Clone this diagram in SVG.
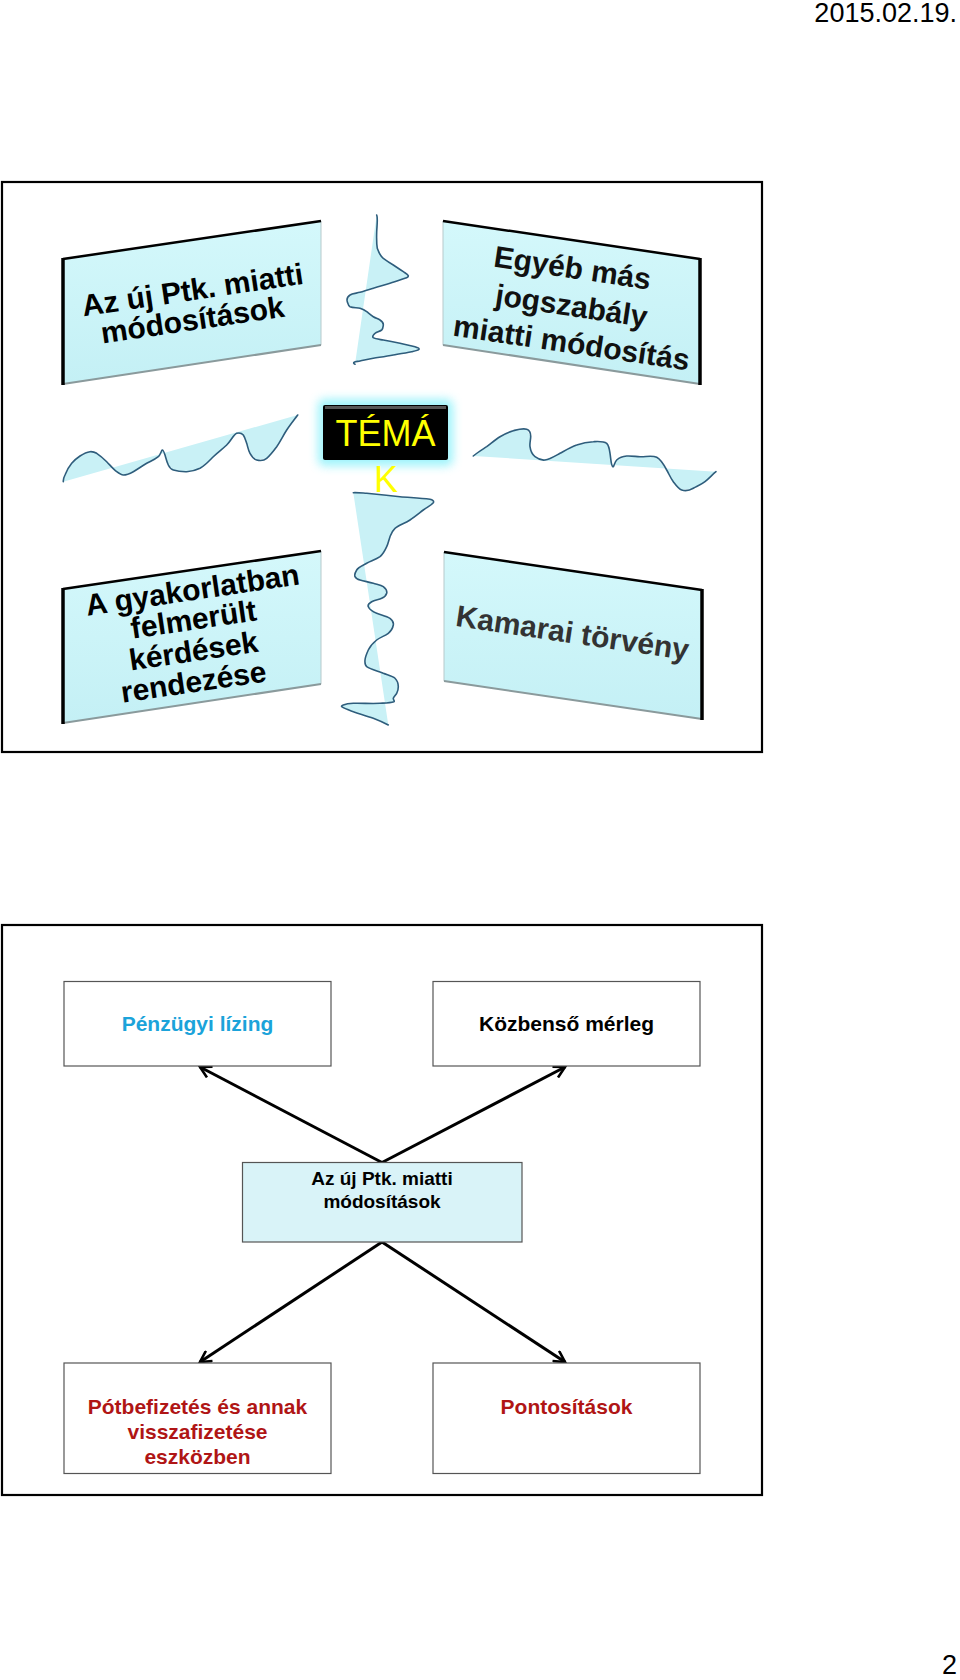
<svg xmlns="http://www.w3.org/2000/svg" width="960" height="1680" viewBox="0 0 960 1680">
<style>
.frame{fill:none;stroke:#000;stroke-width:2.2}
.pfill{fill:url(#pg)}
.dark{fill:none;stroke:#000;stroke-width:2.5;stroke-linejoin:round}
.darkw{fill:none;stroke:#000;stroke-width:3.5}
.shade{fill:none;stroke:#8a9a9c;stroke-width:2}
.light{fill:none;stroke:#b7c9cb;stroke-width:1}
.pt{font-family:"Liberation Sans",Arial,sans-serif;font-weight:bold;font-size:30px;text-anchor:middle}
.wave{fill:#c9f1f6;stroke:none}
.wl{fill:none;stroke:#2e5d7c;stroke-width:1.6;stroke-linejoin:round;stroke-linecap:round}
.box{fill:#fff;stroke:#555;stroke-width:1.2}
.bt{font-family:"Liberation Sans",Arial,sans-serif;font-weight:bold;font-size:21px;text-anchor:middle}
.conn{stroke:#000;stroke-width:3;fill:none;marker-end:url(#ah)}
</style>
<defs>
<linearGradient id="pg" x1="0" y1="0" x2="0" y2="1">
<stop offset="0" stop-color="#d4f8fb"/>
<stop offset="1" stop-color="#c4f0f5"/>
</linearGradient>
<filter id="glow" x="-30%" y="-40%" width="160%" height="180%">
<feGaussianBlur stdDeviation="5"/>
</filter>
<marker id="ah" viewBox="0 0 14 14" refX="12" refY="7" markerWidth="14" markerHeight="14" markerUnits="userSpaceOnUse" orient="auto">
<path d="M1,1 L12,7 L1,13" fill="none" stroke="#000" stroke-width="2.6"/>
</marker>
</defs>

<text x="957" y="22" font-family="Liberation Sans,Arial,sans-serif" font-size="27" text-anchor="end" fill="#000">2015.02.19.</text>

<rect class="frame" x="2" y="182" width="760" height="570"/>

<g id="waves">
<path class="wave" d="M376.7,215 L377.7,220 L376.7,231.7 L377.3,248.3 L383.3,258.3 L393.3,265 L403.3,271.7 L408.3,275.7 L405,278.3 L390,283.3 L373.3,288.3 L360,292.3 L350,295 L347.3,301.7 L350,306.7 L360,308.3 L366.7,311.7 L373.3,316.7 L380,320 L383.3,325 L381.7,330 L375,333.3 L373.3,337.7 L383.3,340 L400,343.3 L415,346.7 L419,349.3 L411.7,351.7 L393.3,355 L373.3,358.3 L360,361 L354,362.3 L355,364.3 Z"/>
<path class="wl" d="M376.7,215 C378,218 377,225 376.7,231.7 C376.5,238 376.5,244 377.3,248.3 C379,253 380,256 383.3,258.3 C387,261 390,263 393.3,265 C397,267.5 400,269.5 403.3,271.7 C406,273.5 408,274.5 408.3,275.7 C408.5,277 407,277.8 405,278.3 C400,280 395,281.8 390,283.3 C384,285 379,286.8 373.3,288.3 C368,290 364,291.3 360,292.3 C356,293.3 352,293.5 350,295 C347,297 346.5,299 347.3,301.7 C348,304 348.5,306 350,306.7 C353,308 357,307.5 360,308.3 C363,309.3 364.5,310 366.7,311.7 C369,313.5 371,315.3 373.3,316.7 C376,318.3 378,318.8 380,320 C382,321.3 383.5,323 383.3,325 C383,327.5 383,329 381.7,330 C379.5,331.5 377,332 375,333.3 C373.5,334.5 372,336.5 373.3,337.7 C375,339 379,339.3 383.3,340 C389,341 394,342 400,343.3 C405,344.5 410,345.5 415,346.7 C417.5,347.5 419.5,348.3 419,349.3 C418,350.5 415,351 411.7,351.7 C405,353 399,354 393.3,355 C386,356.3 380,357.2 373.3,358.3 C368,359.3 364,360.2 360,361 C357.5,361.5 355,361.5 354,362.3 C353.3,363 354,364 355,364.3"/>

<path class="wave" d="M63.3,481.7 L65,475 L71.7,463.3 L80,456 L90,451.7 L96.7,453.3 L106.7,461.7 L116.7,471.7 L123.3,475 L133.3,471.7 L146.7,463.3 L158.3,456.7 L162.3,450 L165,455 L168.3,465 L173.3,470 L186.7,471.7 L200,468.3 L213.3,456.7 L226.7,445 L236.7,433.3 L243.3,435 L246.7,443.3 L250,453.3 L256.7,460 L266.7,458.3 L276.7,446.7 L286.7,430 L297.7,415 Z"/>
<path class="wl" d="M63.3,481.7 C63,479 64,477 65,475 C67,470 69,466.5 71.7,463.3 C74.5,460 77,458 80,456 C83,454 86.5,452 90,451.7 C92.5,451.5 94.5,452 96.7,453.3 C100,455.5 103.5,458.5 106.7,461.7 C110,465 113,469 116.7,471.7 C119,473.5 121,475 123.3,475 C126.5,475 130,473.5 133.3,471.7 C138,469 142,466 146.7,463.3 C151,461 155,459.5 158.3,456.7 C160.5,455 161.3,450.5 162.3,450 C163.3,449.8 164.2,452.5 165,455 C166,458.5 166.8,462 168.3,465 C169.5,467.5 171,469.3 173.3,470 C177.5,471.3 182,471.8 186.7,471.7 C191.5,471.5 196,470.3 200,468.3 C205,465.5 209,461 213.3,456.7 C218,452 222.5,449 226.7,445 C230.5,441.5 233.5,434.5 236.7,433.3 C239.5,432.5 242,433.5 243.3,435 C245,437.5 245.8,440.5 246.7,443.3 C247.8,446.8 248.3,450.5 250,453.3 C251.5,456 253.8,459.3 256.7,460 C260,460.8 263.8,460.8 266.7,458.3 C270.5,455 273.5,451 276.7,446.7 C280.3,441.5 283.2,435.5 286.7,430 C290,425 294,420 297.7,415"/>

<path class="wave" d="M473.3,456 L486.7,446.7 L500,436.7 L513.3,430.7 L526.7,429.3 L530.7,436.7 L530,446.7 L535,456.7 L545,460 L560,453.3 L576.7,445 L593.3,441.7 L606.7,443.3 L610,453.3 L612.7,466.7 L616.7,460 L626.7,456 L640,456.7 L656.7,457.3 L666.7,470 L673.3,481.7 L681.7,490 L693.3,488.3 L705,481.7 L716,471.7 Z"/>
<path class="wl" d="M473.3,456 C477.5,452.5 482,449.8 486.7,446.7 C491,443.5 495.5,439.5 500,436.7 C504.5,434 508.8,432 513.3,430.7 C518,429.5 523,428 526.7,429.3 C529.5,430.3 530.8,433.5 530.7,436.7 C530.6,440 529.5,443.5 530,446.7 C530.5,450.5 532,454.5 535,456.7 C538,459 541.5,460.5 545,460 C550,459.3 555,456 560,453.3 C565.5,450.3 571,447 576.7,445 C582,443 587.5,441.8 593.3,441.7 C598,441.5 603.5,441 606.7,443.3 C609,445.5 609.5,449.5 610,453.3 C610.8,458 611,465.5 612.7,466.7 C614,467.5 614.5,462 616.7,460 C619.5,457.5 623,456.3 626.7,456 C631,455.7 635.5,456.5 640,456.7 C645.5,457 652,455 656.7,457.3 C661,459.5 664,465 666.7,470 C669,474 670.5,478 673.3,481.7 C675.8,485 678.5,489 681.7,490 C685.5,491.2 689.5,490.5 693.3,488.3 C697.5,486 701.5,484.5 705,481.7 C709,478.5 712.5,474.5 716,471.7"/>

<path class="wave" d="M353.3,492.7 L366.7,493.3 L400,496.7 L430,499.3 L433.3,502.7 L423.3,510 L410,520 L395,528.3 L390,536.7 L386.7,546.7 L380,556.7 L366.7,563.3 L356.7,570 L355,576.7 L360,580 L373.3,583.3 L383.3,586.7 L386.7,593.3 L381.7,598.3 L371.7,601.7 L368.3,606.7 L376.7,613.3 L390,618.3 L393.3,625 L388.3,633.3 L376.7,640 L368.3,650 L365,660 L366.7,666.7 L383.3,673.3 L395,678.3 L398.3,686.7 L396.7,693.3 L393.3,698.3 L394,701.7 L380,703.3 L353.3,703.3 L343.3,705 L341.7,706.7 L353.3,711.7 L373.3,718.3 L388.3,725 Z"/>
<path class="wl" d="M353.3,492.7 C357.5,492.5 362,493 366.7,493.3 C377.5,494.3 389,495.5 400,496.7 C410,497.6 420.5,498 430,499.3 C432.5,499.8 434.3,501.2 433.3,502.7 C431,505.5 426.5,507.5 423.3,510 C419,513.3 414.5,517 410,520 C405,523.3 399,525 395,528.3 C392,531 391,534 390,536.7 C388.8,540 388.2,543.5 386.7,546.7 C385,550.5 383.3,554 380,556.7 C376,559.5 371,561 366.7,563.3 C363,565.5 358.5,567 356.7,570 C355.3,572.3 354.3,575 355,576.7 C356,578.8 357.8,579.5 360,580 C364.5,581.3 369,582 373.3,583.3 C377,584.5 381,585 383.3,586.7 C385.5,588.5 387.3,591 386.7,593.3 C386,595.8 384,597.3 381.7,598.3 C378.5,599.7 374.5,600 371.7,601.7 C369.5,603 367.5,605 368.3,606.7 C369.5,609.5 373,611.8 376.7,613.3 C381,615 386.5,616 390,618.3 C392.3,620 393.8,622.5 393.3,625 C392.8,628 391,631 388.3,633.3 C385,636 380,637.3 376.7,640 C373,643 370,646.3 368.3,650 C366.8,653.3 365.3,656.7 365,660 C364.8,662.5 364.8,665.3 366.7,666.7 C371,669.8 378,671 383.3,673.3 C387.5,675 392.5,675.8 395,678.3 C397.3,680.7 398.3,683.8 398.3,686.7 C398.3,689 397.8,691.3 396.7,693.3 C395.8,695 393.8,696.7 393.3,698.3 C393,699.5 395,701 394,701.7 C390,703 385,703 380,703.3 C371,703.8 362,703 353.3,703.3 C349.5,703.5 346,704 343.3,705 C342,705.5 341.3,706 341.7,706.7 C344.5,708.8 349,710.2 353.3,711.7 C360,714 366.5,715.8 373.3,718.3 C378.5,720.3 383.5,722.5 388.3,725"/>
</g>

<g id="panel-ptk">
<polygon class="pfill" points="63,259 321,221 321,345 63,384"/>
<polyline class="light" points="321,221 321,345"/>
<polyline class="shade" points="63,384 321,345"/>
<polyline class="dark" points="321,221 63,259"/>
<polyline class="darkw" points="63,258 63,385"/>
<text class="pt" transform="translate(194,300) rotate(-8.4)">Az új Ptk. miatti</text>
<text class="pt" transform="translate(194,330) rotate(-8.4)">módosítások</text>
</g>

<g id="panel-egyeb">
<polygon class="pfill" points="443,221 700,259 700,384 443,345"/>
<polyline class="light" points="443,221 443,345"/>
<polyline class="shade" points="443,345 700,384"/>
<polyline class="dark" points="443,221 700,259"/>
<polyline class="darkw" points="700,258 700,385"/>
<text class="pt" fill="#111" transform="translate(571,278) rotate(8.4)">Egyéb más</text>
<text class="pt" fill="#111" transform="translate(570,316) rotate(8.4)">jogszabály</text>
<text class="pt" fill="#111" transform="translate(570,353) rotate(8.4)">miatti módosítás</text>
</g>

<g id="panel-gyakorlat">
<polygon class="pfill" points="63,589 321,551 321,684 63,723"/>
<polyline class="light" points="321,551 321,684"/>
<polyline class="shade" points="63,723 321,684"/>
<polyline class="dark" points="321,551 63,589"/>
<polyline class="darkw" points="63,588 63,724"/>
<text class="pt" transform="translate(194,600) rotate(-8.4)">A gyakorlatban</text>
<text class="pt" transform="translate(195,629.5) rotate(-8.4)">felmerült</text>
<text class="pt" transform="translate(195,661) rotate(-8.4)">kérdések</text>
<text class="pt" transform="translate(195,692) rotate(-8.4)">rendezése</text>
</g>

<g id="panel-kamarai">
<polygon class="pfill" points="444,552 702,590 702,719 444,681"/>
<polyline class="light" points="444,552 444,681"/>
<polyline class="shade" points="444,681 702,719"/>
<polyline class="dark" points="444,552 702,590"/>
<polyline class="darkw" points="702,589 702,720"/>
<text class="pt" fill="#333" transform="translate(571,643) rotate(8.4)">Kamarai törvény</text>
</g>

<g id="temak">
<rect x="318" y="399" width="135" height="67" rx="6" fill="#7ff0fa" opacity="0.75" filter="url(#glow)"/>
<rect x="323" y="405" width="125" height="55" rx="2" fill="#000"/>
<rect x="325" y="406" width="121" height="3" fill="#555"/>
<text x="385.5" y="446" font-family="Liberation Sans,Arial,sans-serif" font-size="36" text-anchor="middle" fill="#ffff00">TÉMÁ</text>
<text x="386" y="492" font-family="Liberation Sans,Arial,sans-serif" font-size="36" text-anchor="middle" fill="#ffff00">K</text>
</g>

<rect class="frame" x="2" y="925" width="760" height="570"/>

<g id="connectors">
<line class="conn" x1="382" y1="1162.5" x2="200" y2="1067"/>
<line class="conn" x1="382" y1="1162.5" x2="565" y2="1067"/>
<line class="conn" x1="382" y1="1242" x2="200" y2="1362"/>
<line class="conn" x1="382" y1="1242" x2="565" y2="1362"/>
</g>

<g id="n-lizing">
<rect class="box" x="64" y="981.5" width="267" height="84.5"/>
<text class="bt" x="197.5" y="1031" fill="#1ba3da">Pénzügyi lízing</text>
</g>
<g id="n-kozbenso">
<rect class="box" x="433" y="981.5" width="267" height="84.5"/>
<text class="bt" x="566.5" y="1031" fill="#000">Közbenső mérleg</text>
</g>
<g id="n-ptk">
<rect class="box" x="242.5" y="1162.5" width="279.5" height="79.5" style="fill:#d9f3f8"/>
<text class="bt" x="382" y="1185" style="font-size:19px" fill="#000">Az új Ptk. miatti</text>
<text class="bt" x="382" y="1208" style="font-size:19px" fill="#000">módosítások</text>
</g>
<g id="n-potbef">
<rect class="box" x="64" y="1363" width="267" height="110.5"/>
<text class="bt" x="197.5" y="1414" fill="#b01515">Pótbefizetés és annak</text>
<text class="bt" x="197.5" y="1439" fill="#b01515">visszafizetése</text>
<text class="bt" x="197.5" y="1464" fill="#b01515">eszközben</text>
</g>
<g id="n-pontos">
<rect class="box" x="433" y="1363" width="267" height="110.5"/>
<text class="bt" x="566.5" y="1414" fill="#b01515">Pontosítások</text>
</g>

<text x="957" y="1674" font-family="Liberation Sans,Arial,sans-serif" font-size="27" text-anchor="end" fill="#000">2</text>
</svg>
